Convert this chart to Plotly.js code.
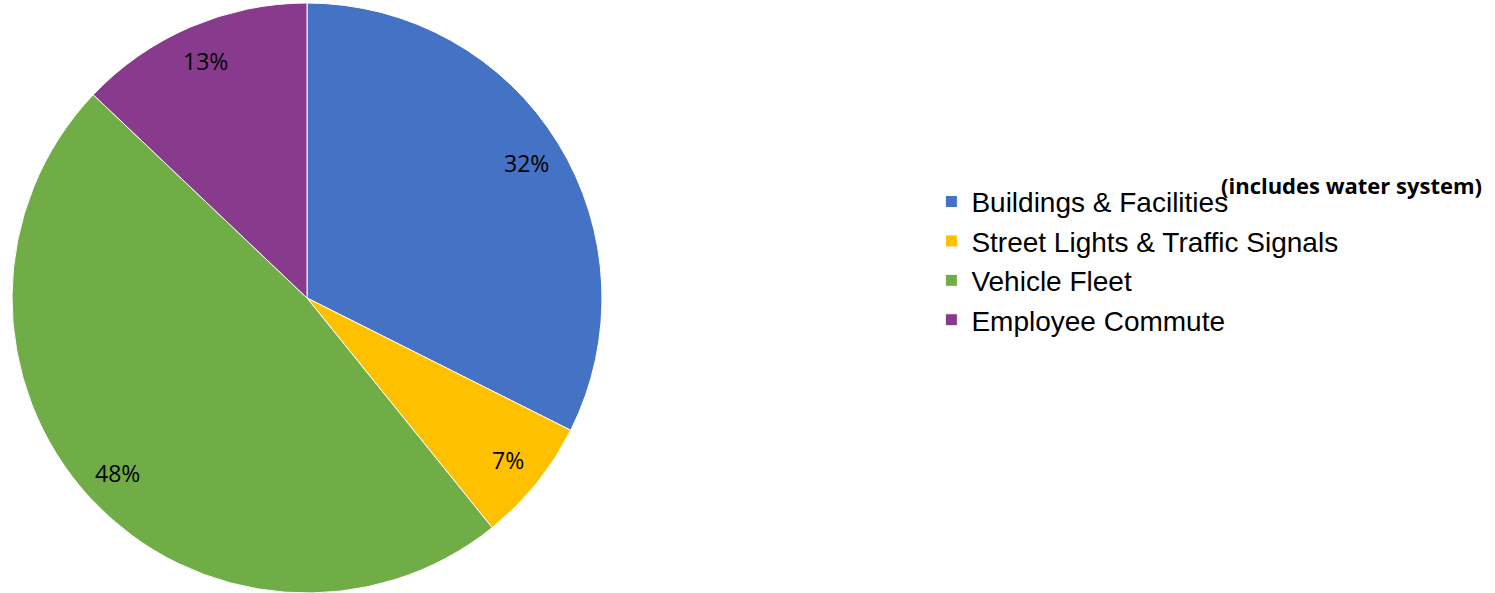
<!DOCTYPE html>
<html>
<head>
<meta charset="utf-8">
<script src="https://cdn.plot.ly/plotly-3.0.1.min.js"></script>
<style>html,body{margin:0;padding:0;background:#fff;}#chart{width:1495px;height:593px;}</style>
</head>
<body>
<div id="chart"></div>
<script>
const categories = ["Buildings & Facilities", "Street Lights & Traffic Signals", "Vehicle Fleet", "Employee Commute"];
const shares = [32.4, 6.8, 47.9, 12.9];
const colors = ["#4472C4", "#FFC000", "#70AD47", "#883A8C"];
const note = "(includes water system)";

const W = 1495, H = 593, T = 3;
const cx = 307, cy = 298, R = 295, Rlab = 258;

const pie = {
  type: "pie",
  labels: categories,
  values: shares,
  sort: false,
  direction: "clockwise",
  rotation: 0,
  marker: {colors: colors, line: {color: "#ffffff", width: 1}},
  textinfo: "none",
  hoverinfo: "label+percent",
  domain: {x: [(cx - R) / W, (cx + R) / W], y: [0, 1]}
};

// percent labels placed on each slice's bisector, derived from the data
const total = shares.reduce((a, b) => a + b, 0);
let cum = 0;
const labelAnnotations = shares.map((v) => {
  const frac = (cum + v / 2) / total;
  cum += v;
  const th = frac * 2 * Math.PI;
  const px = cx + Rlab * Math.sin(th);
  const py = cy - Rlab * Math.cos(th);
  return {
    text: Math.round(v / total * 100) + "%",
    xref: "paper", yref: "paper",
    x: px / W, y: (H - py) / (H - T),
    xanchor: "center", yanchor: "middle",
    showarrow: false,
    font: {family: "Open Sans, sans-serif", size: 23, color: "#000000"}
  };
});

const layout = {
  width: W,
  height: H,
  margin: {l: 0, r: 0, t: T, b: 0},
  paper_bgcolor: "#ffffff",
  showlegend: true,
  legend: {
    x: 0.623, y: 0.563, xanchor: "left", yanchor: "middle",
    font: {family: "Liberation Sans, Arial, sans-serif", size: 28, color: "#000000"},
    itemwidth: 30
  },
  annotations: labelAnnotations.concat([{
    text: "<b>" + note + "</b>",
    xref: "paper", yref: "paper",
    x: 1219 / W, y: (H - 185) / (H - T), xanchor: "left", yanchor: "middle",
    showarrow: false,
    font: {family: "Open Sans, sans-serif", size: 22, color: "#000000"}
  }])
};

Plotly.newPlot("chart", [pie], layout, {displayModeBar: false, staticPlot: true});
</script>
</body>
</html>
